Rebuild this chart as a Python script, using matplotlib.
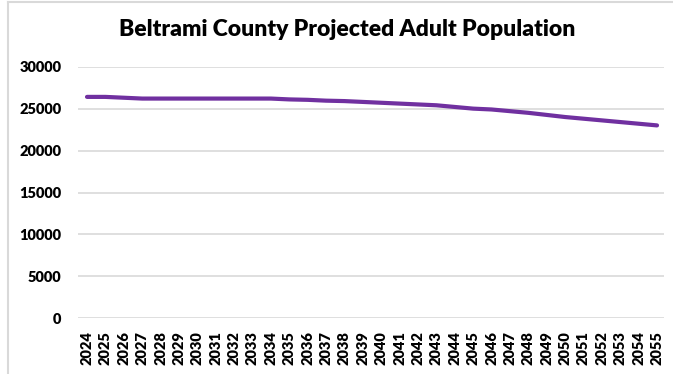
import matplotlib
matplotlib.use("Agg")
import matplotlib.pyplot as plt
from matplotlib.lines import Line2D

years = [str(y) for y in range(2024, 2056)]
population = [26400, 26400, 26300, 26200, 26200, 26200, 26200, 26200,
              26200, 26200, 26200, 26100, 26050, 25950, 25900, 25800,
              25700, 25600, 25500, 25400, 25200, 25000, 24900, 24700,
              24500, 24250, 24000, 23800, 23600, 23400, 23200, 23000]
yticks = [0, 5000, 10000, 15000, 20000, 25000, 30000]
title = "Beltrami County Projected Adult Population"

plt.rcParams['font.family'] = ['Lato', 'DejaVu Sans']

fig = plt.figure(figsize=(6.73, 3.74), dpi=100)
ax = fig.add_axes([78/673, 55.7/374, 586/673, 251.6/374])

x = list(range(len(years)))
ax.plot(x, population, color='#7030A0', lw=3.0, solid_capstyle='round', zorder=3)

ax.set_ylim(0, 30000)
ax.set_yticks(yticks)
ax.set_yticklabels([str(v) for v in yticks], fontsize=10.5, fontweight='heavy')
ax.set_xlim(-0.49, 31.38)
ax.set_xticks(x)
ax.set_xticklabels(years, rotation=90, fontsize=10.5, fontweight='heavy')
ax.tick_params(axis='both', length=0)
ax.tick_params(axis='y', pad=12)
ax.tick_params(axis='x', pad=9)
ax.grid(axis='y', color='#d9d9d9', lw=1.2)
ax.set_axisbelow(True)
for s in ax.spines.values():
    s.set_visible(False)

fig.text(347/673, 1 - 30/374, title, ha='center', va='center',
         fontsize=16.5, fontweight='heavy')

# chart frame border (left and top)
fig.add_artist(Line2D([8/673, 8/673], [0, 1 - 2/374], color='#d9d9d9', lw=1.5,
                      transform=fig.transFigure))
fig.add_artist(Line2D([8/673, 1], [1 - 2/374, 1 - 2/374], color='#d9d9d9', lw=1.5,
                      transform=fig.transFigure))

fig.savefig('out.png', dpi=100)
